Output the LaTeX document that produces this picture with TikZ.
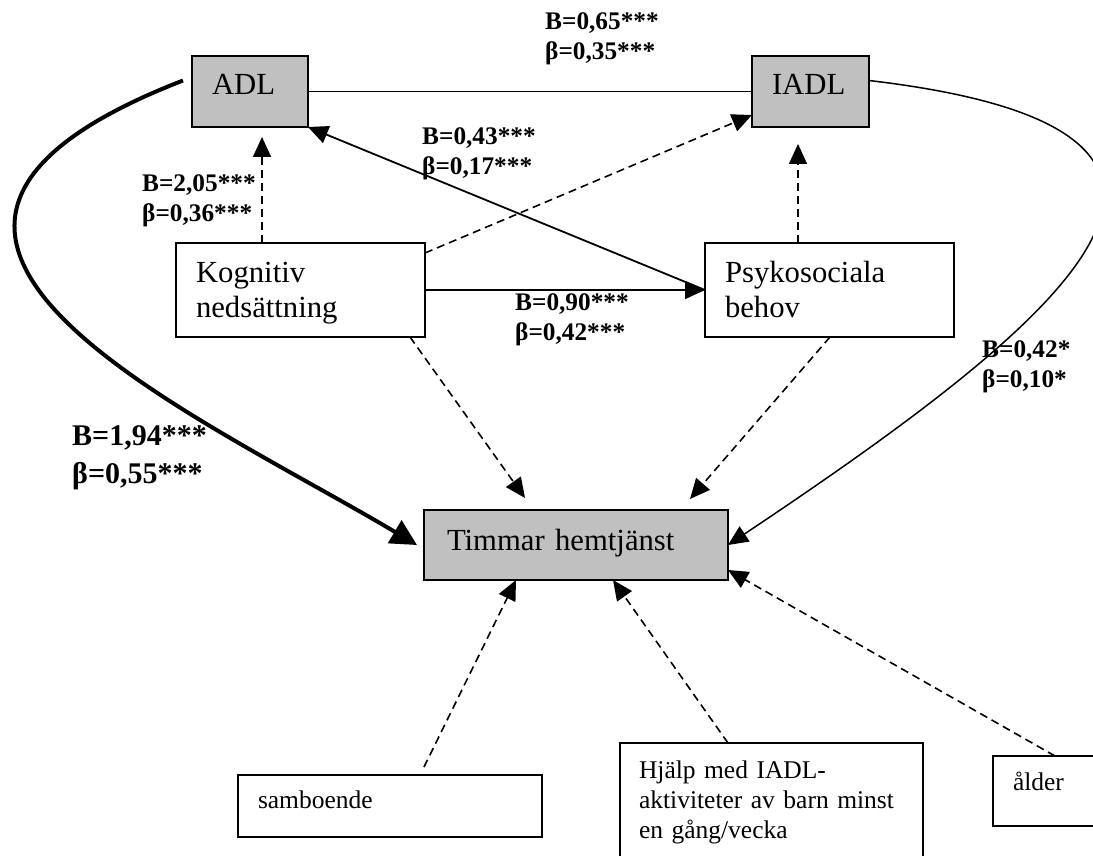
\documentclass[tikz,border=0pt]{standalone}
\usepackage{fontspec}
\setmainfont{Liberation Serif}
\usetikzlibrary{arrows.meta}
\definecolor{boxgrey}{RGB}{192,192,192}

\begin{document}
\begin{tikzpicture}[x=1pt, y=-1pt,
        boxnode/.style={draw=black, line width=1.8pt, anchor=north west, inner xsep=20pt, inner ysep=0pt, outer sep=0pt, align=left, font=\fontsize{30.7}{35}\selectfont},
        greynode/.style={boxnode, fill=boxgrey},
        smallnode/.style={boxnode, font=\fontsize{25.5}{30}\selectfont},
        coefnode/.style={anchor=base west, inner sep=0pt, text width=170pt, align=left, font=\fontsize{25.3}{30}\selectfont\bfseries},
        pathline/.style={line width=1.8pt, -{Triangle[length=20pt, width=18pt]}},
        dashline/.style={pathline, line width=1.6pt, dash pattern=on 8pt off 5pt},
        ]
            \useasboundingbox (0,0) rectangle (1093,856);
            \clip (0,0) rectangle (1093,856);

            \node[greynode, text width=76pt, text height=39pt, text depth=32pt] at (192,56) (adl) {ADL};
            \node[greynode, text width=77pt, text height=39pt, text depth=32pt] at (752,56) (iadl) {IADL};
            \node[boxnode, text width=209pt, text height=39pt, text depth=55pt] at (176,243) (kog) {Kognitiv\\nedsättning};
            \node[boxnode, text width=209pt, text height=39pt, text depth=55pt] at (705,243) (psyk) {Psykosociala\\behov};
            \node[greynode, inner xsep=23pt, text width=258pt, text height=40pt, text depth=30pt] at (424,510) (tim) {Timmar hemtjänst};
            \node[smallnode, text width=264pt, text height=33pt, text depth=29pt] at (238,775) (samb) {samboende};
            \node[smallnode, inner xsep=19pt, text width=265pt, text height=35pt, text depth=92pt] at (620,743) (hjalp) {Hjälp med IADL-\\aktiviteter av barn minst\\en gång/vecka};
            \node[smallnode, text width=90pt, text height=34pt, text depth=36pt] at (993,756) (alder) {ålder};

            \node[coefnode] at (545,30) (c65) {B=0,65***\\β=0,35***};
            \node[coefnode] at (422,145) (c43) {B=0,43***\\β=0,17***};
            \node[coefnode] at (142,192) (c05) {B=2,05***\\β=0,36***};
            \node[coefnode] at (515,310) (c90) {B=0,90***\\β=0,42***};
            \node[coefnode] at (982,357) (c42) {B=0,42*\\β=0,10*};
            \node[coefnode, font=\fontsize{30}{38}\selectfont\bfseries] at (72,445) (c94) {B=1,94***\\β=0,55***};

            \draw[line width=1.8pt] (adl) -- (iadl);
            \draw[pathline] (kog) -- (psyk);
            \draw[pathline] (psyk.west) -- (adl.south east);
            \draw[dashline] ([xshift=86pt]kog.north west) -- ([xshift=70pt, yshift=-10pt]adl.south west);
            \draw[dashline] ([xshift=93pt]psyk.north west) -- ([xshift=46pt, yshift=-17pt]iadl.south west);
            \draw[dashline] ([yshift=-10pt]kog.north east) -- ([yshift=12pt]iadl.south west);
            \draw[dashline] ([xshift=-15pt]kog.south east) -- ([xshift=101pt, yshift=12pt]tim.north west);
            \draw[dashline] ([xshift=125pt]psyk.south west) -- ([xshift=266pt, yshift=11pt]tim.north west);
            \draw[line width=4pt, -{Triangle[length=26pt, width=26pt]}] ([xshift=-9pt, yshift=11pt]adl.west) .. controls (-215,235) and (190,410) .. ([xshift=-7pt]tim.west);
            \draw[pathline, line width=1.5pt] ([yshift=11pt]iadl.east) .. controls (1290,130) and (1080,310) .. (tim.east);
            \draw[dashline] ([xshift=186pt, yshift=8pt]samb.north west) -- ([xshift=92pt]tim.south west);
            \draw[dashline] ([xshift=108pt]hjalp.north west) -- ([xshift=189pt]tim.south west);
            \draw[dashline] ([xshift=62pt]alder.north west) -- ([yshift=10pt]tim.south east);

\end{tikzpicture}
\end{document}
